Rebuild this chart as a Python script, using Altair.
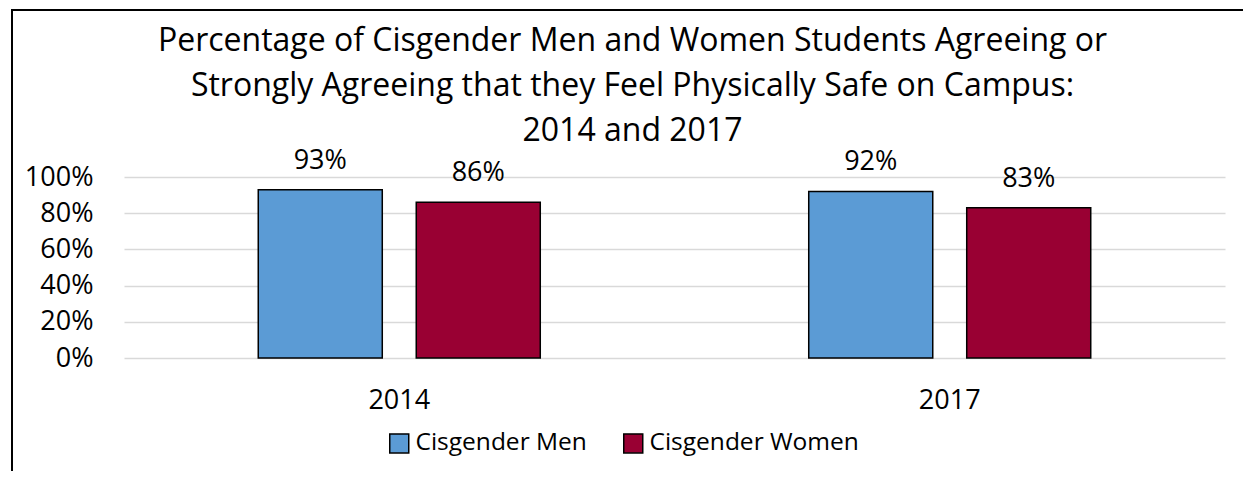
import altair as alt
import pandas as pd

years = ["2014", "2017"]
groups = ["Cisgender Men", "Cisgender Women"]
men = [0.93, 0.92]
women = [0.86, 0.83]
colors = ["#5B9BD5", "#990033"]
title_lines = [
    "Percentage of Cisgender Men and Women Students Agreeing or",
    "Strongly Agreeing that they Feel Physically Safe on Campus:",
    "2014 and 2017",
]

rows = []
for i, y in enumerate(years):
    rows.append({"year": y, "group": groups[0], "value": men[i]})
    rows.append({"year": y, "group": groups[1], "value": women[i]})
df = pd.DataFrame(rows)

FONT = "Open Sans"
W, H = 1101, 181

x_enc = alt.X("year:N", sort=years, title=None,
              scale=alt.Scale(paddingInner=0.4877, paddingOuter=0.2439),
              axis=alt.Axis(labelAngle=0, ticks=False, domain=False, labelPadding=29,
                            labelFontSize=27, labelFont=FONT, labelColor="black"))
xo_enc = alt.XOffset("group:N", sort=groups,
                     scale=alt.Scale(paddingInner=0.215, paddingOuter=0))
y_enc = alt.Y("value:Q", title=None,
              scale=alt.Scale(domain=[0, 1]),
              axis=alt.Axis(values=[0, 0.2, 0.4, 0.6, 0.8, 1.0], format=".0%",
                            ticks=False, domain=False, labelPadding=31,
                            labelFontSize=27, labelFont=FONT, labelColor="black",
                            gridColor="#d9d9d9", gridWidth=1.5))

base = alt.Chart(df).encode(x=x_enc, xOffset=xo_enc, y=y_enc)

bars = base.mark_bar(stroke="black", strokeWidth=1.5).encode(
    color=alt.Color("group:N", sort=groups,
                    scale=alt.Scale(domain=groups, range=colors),
                    legend=alt.Legend(title=None, orient="none", direction="horizontal",
                                      legendX=263, legendY=254, padding=0,
                                      symbolType="square", symbolSize=361,
                                      symbolStrokeColor="black", symbolStrokeWidth=1.5,
                                      symbolOpacity=1, labelLimit=0,
                                      labelFontSize=24.5, labelFont=FONT, labelColor="black",
                                      labelOffset=4, columnPadding=33))
)

labels = base.mark_text(baseline="alphabetic", dy=-21, fontSize=27, font=FONT,
                        color="black").encode(text=alt.Text("value:Q", format=".0%"))

border_data = alt.Data(values=[{"k": 1}])
left_border = alt.Chart(border_data).mark_rule(color="black", strokeWidth=2).encode(
    x=alt.value(-112), y=alt.value(-167), y2=alt.value(294))
top_border = alt.Chart(border_data).mark_rule(color="black", strokeWidth=2).encode(
    x=alt.value(-113), x2=alt.value(1119), y=alt.value(-167))

chart = alt.layer(bars, labels, left_border, top_border).properties(
    width=W, height=H,
    background="white",
    padding={"left": 2, "top": 1, "right": 0, "bottom": 0},
    title=alt.TitleParams(text=title_lines, fontSize=32, font=FONT, fontWeight="normal",
                          color="black", anchor="middle", dx=-42, lineHeight=45, offset=-139),
).configure_view(stroke=None)

chart.save("out.html", embed_options={"renderer": "svg", "actions": False})
